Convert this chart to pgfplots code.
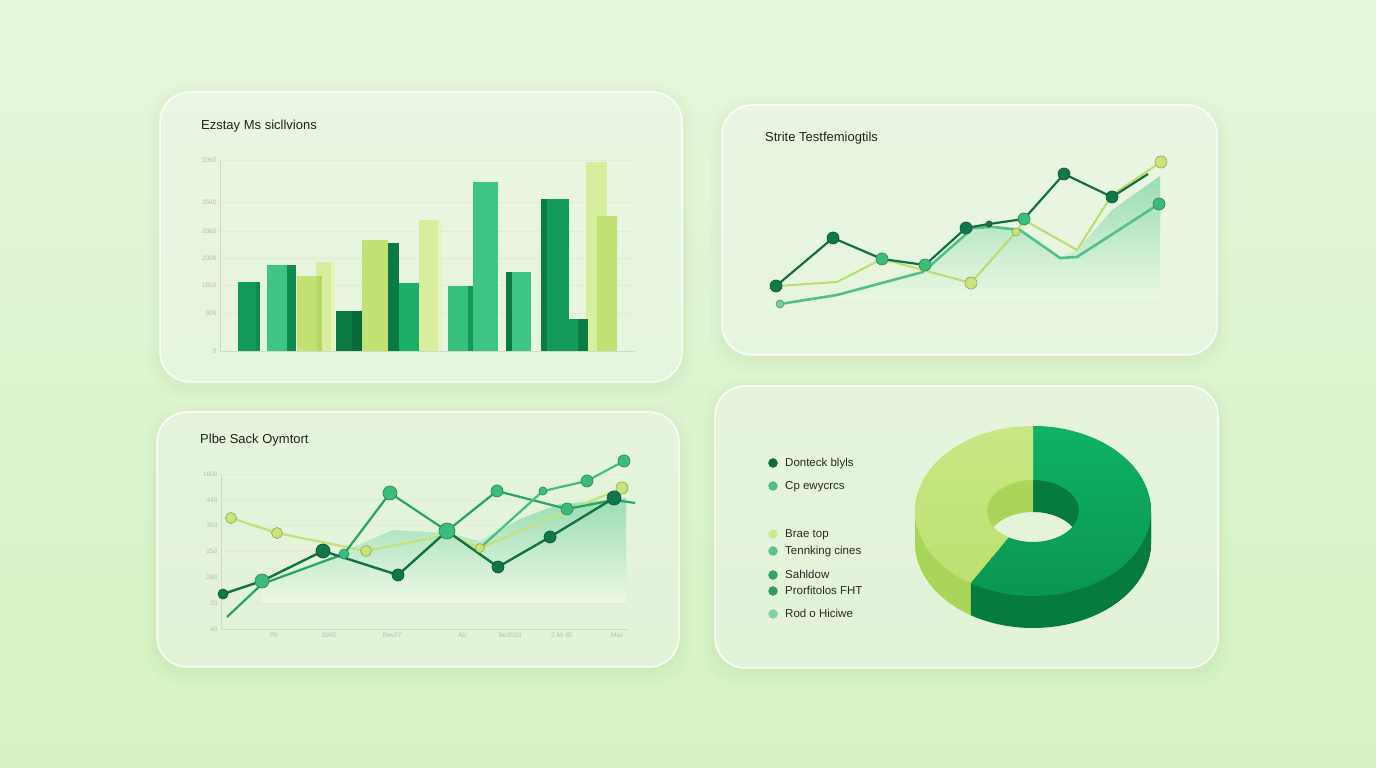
\documentclass[border=0pt]{standalone}
\usepackage{pgfplots}
\pgfplotsset{compat=1.18}
\usepackage{fontspec}
\setmainfont{Liberation Sans}
\definecolor{bgtop}{HTML}{E7F7DC}
\definecolor{bgbot}{HTML}{D6F2C3}
\definecolor{shadowc}{HTML}{6FA85A}
\definecolor{tickc}{HTML}{B5C1AE}
\definecolor{gridc}{HTML}{E1ECD8}
\definecolor{axisc}{HTML}{D0DAC8}
\definecolor{titlec}{HTML}{1E2420}
\definecolor{dkg}{HTML}{0F6B42}
\definecolor{dk}{HTML}{0B7A45}
\definecolor{dks}{HTML}{086A3A}
\definecolor{gr}{HTML}{13995A}
\definecolor{grs}{HTML}{0F8A50}
\definecolor{grn}{HTML}{1AAE66}
\definecolor{mint}{HTML}{3FC583}
\definecolor{mint2}{HTML}{36C07A}
\definecolor{lime}{HTML}{C2E174}
\definecolor{limes}{HTML}{B3D964}
\definecolor{pale}{HTML}{D6EE9D}
\definecolor{pales}{HTML}{E4F4BC}
\definecolor{l2dark}{HTML}{136E46}
\definecolor{l2lime}{HTML}{BADF6E}
\definecolor{l2mint}{HTML}{52C189}
\definecolor{areatop}{HTML}{9ADDB4}
\definecolor{cardc}{HTML}{EDF8E5}
\definecolor{p3dark}{HTML}{137245}
\definecolor{p3green}{HTML}{26A463}
\definecolor{p3mint}{HTML}{40C180}
\definecolor{p3lime}{HTML}{C4E27A}
\definecolor{mkdark}{HTML}{11774A}
\definecolor{mkmint}{HTML}{3DBB7B}
\definecolor{mklime}{HTML}{C8E57C}
\definecolor{dtop1}{HTML}{0FB263}
\definecolor{dtop2}{HTML}{0A9450}
\definecolor{dside}{HTML}{077A3D}
\definecolor{ltop1}{HTML}{C9E784}
\definecolor{ltop2}{HTML}{BCE070}
\definecolor{lside}{HTML}{A9D658}
\definecolor{lg1}{HTML}{0F6B42}
\definecolor{lg2}{HTML}{4DBE87}
\definecolor{lg3}{HTML}{CDE98F}
\definecolor{lg4}{HTML}{5FC28E}
\definecolor{lg5}{HTML}{2FA466}
\definecolor{lg6}{HTML}{2E9D60}
\definecolor{lg7}{HTML}{7FD3A3}
\definecolor{legtext}{HTML}{262B27}
\newcommand\card[4]{%
  \foreach \i/\o in {12/0.02, 8/0.025, 4/0.03}{%
    \fill[shadowc, opacity=\o, rounded corners=36pt] (#1-\i,#2-\i-5) rectangle (#3+\i,#4+\i-5);}
  \fill[white, opacity=0.42, rounded corners=30pt] (#1,#2) rectangle (#3,#4);
  \draw[white, opacity=0.85, line width=1.5pt, rounded corners=30pt] (#1,#2) rectangle (#3,#4);
}
% bar: center, width, height, colour
\newcommand\vbar[4]{\addplot[ybar, bar shift=0pt, bar width=#2, fill=#4, draw=none] coordinates {(#1,#3)};}
\newcommand\legdot[2]{\addplot[only marks, mark=*, mark size=4.5pt, color=#2] coordinates {(773,#1)};}
\pgfplotsset{
  dot/.style 2 args={only marks, mark=*, mark size=#1,
     mark options={fill=#2, draw=#2!75!black, line width=0.7pt}}}
\begin{document}
\begin{tikzpicture}[x=1pt,y=1pt]
\useasboundingbox (0,0) rectangle (1376,768);
\shade[top color=bgtop, bottom color=bgbot] (0,0) rectangle (1376,768);
\card{160}{386}{682}{676}
\card{722}{413}{1217}{663}
\card{157}{101}{679}{356}
\card{715}{100}{1218}{382}
% titles
\node[anchor=base west, inner sep=0pt, text=titlec, font=\fontsize{13}{15}\selectfont] at (201,638) {Ezstay Ms sicllvions};
\node[anchor=base west, inner sep=0pt, text=titlec, font=\fontsize{13}{15}\selectfont] at (765,626) {Strite Testfemiogtils};
\node[anchor=base west, inner sep=0pt, text=titlec, font=\fontsize{13}{15}\selectfont] at (200,324) {Plbe Sack Oymtort};

% ---------------- panel 1: bars
\begin{axis}[at={(220,417)}, anchor=south west, scale only axis,
  width=415pt, height=191pt, xmin=220, xmax=635, ymin=0, ymax=191,
  axis x line*=bottom, axis y line*=left,
  axis line style={draw=axisc, line width=0.6pt},
  xtick=\empty, ytick={0,38,66,93,120,149,191},
  yticklabels={0,900,1800,2000,2060,2560,2060},
  ymajorgrids, grid style={draw=gridc, line width=0.5pt},
  major tick length=0pt,
  tick label style={font=\fontsize{6.5}{7}\selectfont, text=tickc},
  clip=false]
\vbar{249}{22}{69}{gr}
\vbar{258}{4}{69}{grs}
\vbar{281.5}{29}{86}{mint}
\vbar{291.5}{9}{86}{grs}
\vbar{325.5}{19}{89}{pale}
\vbar{333}{4}{89}{pales}
\vbar{309.5}{25}{75}{lime}
\vbar{319.5}{5}{75}{limes}
\vbar{349}{26}{40}{dk}
\vbar{357}{10}{40}{dks}
\vbar{375}{26}{111}{lime}
\vbar{393.5}{11}{108}{dk}
\vbar{409.5}{21}{68}{grn}
\vbar{430}{22}{131}{pale}
\vbar{439.5}{3}{131}{pales}
\vbar{460.5}{25}{65}{mint2}
\vbar{470.5}{5}{65}{gr}
\vbar{485.5}{25}{169}{mint}
\vbar{518.5}{25}{79}{mint}
\vbar{509}{6}{79}{dk}
\vbar{555}{28}{152}{gr}
\vbar{544}{6}{152}{dk}
\vbar{596.5}{21}{189}{pale}
\vbar{607}{20}{135}{lime}
\vbar{576}{24}{32}{gr}
\vbar{583}{10}{32}{dk}
\end{axis}

% ---------------- panel 2: lines
\begin{axis}[at={(760,448)}, anchor=south west, scale only axis,
  width=420pt, height=170pt, xmin=760, xmax=1180, ymin=448, ymax=618,
  hide axis, clip=false]
\addplot[draw=none, top color=areatop, bottom color=cardc] coordinates {
 (780,468) (780,464) (837,473) (923,496) (973,540) (1020,538) (1060,510)
 (1077,518) (1112,558) (1160,592) (1160,468)} -- cycle;
\addplot[color=l2mint, line width=2.6pt] coordinates {
 (780,464) (837,473) (923,496) (973,540) (993,541) (1020,538) (1060,510) (1077,511) (1159,564)};
\addplot[color=l2lime, line width=2pt] coordinates {
 (778,482) (837,486) (882,509) (971,485) (1016,536) (1024,548) (1077,518) (1112,573) (1161,606)};
\addplot[color=l2dark, line width=2.2pt] coordinates {
 (776,482) (833,530) (882,509) (925,503) (966,540) (989,544) (1024,549) (1064,594) (1112,571) (1148,594)};
\addplot[dot={6pt}{mkdark}] coordinates {(776,482) (833,530) (966,540) (1064,594) (1112,571)};
\addplot[dot={6pt}{mkmint}] coordinates {(882,509) (925,503) (1024,549) (1159,564)};
\addplot[dot={4pt}{l2mint!80!white}] coordinates {(780,464)};
\addplot[dot={6pt}{mklime}] coordinates {(971,485) (1161,606)};
\addplot[dot={4pt}{mklime}] coordinates {(1016,536)};
\addplot[dot={3pt}{mkdark}] coordinates {(989,544)};
\end{axis}

% ---------------- panel 3: lines
\begin{axis}[at={(221,139)}, anchor=south west, scale only axis,
  width=407pt, height=155pt, xmin=221, xmax=628, ymin=0, ymax=155,
  axis x line*=bottom, axis y line*=left,
  axis line style={draw=axisc, line width=0.6pt},
  xtick={274,330,392,462,510,562,617},
  xticklabels={Pb,2665.,Rev27,Ab,Be0030,2.66 85,Max},
  ytick={0,26,52,78,104,129,155},
  yticklabels={40,20,280,250,360,440,1600},
  ymajorgrids, grid style={draw=gridc, line width=0.5pt},
  major tick length=0pt,
  tick label style={font=\fontsize{6.5}{7}\selectfont, text=tickc},
  clip=false]
\addplot[draw=none, top color=areatop, bottom color=cardc] coordinates {
 (262,26) (262,47) (330,72) (393,99) (447,96) (480,88) (520,110) (560,125) (600,128) (626,131) (626,26)} -- cycle;
\addplot[color=p3lime, line width=2.2pt] coordinates {
 (231,111) (277,96) (366,78) (447,94) (480,81) (622,141)};
\addplot[color=p3green, line width=2.2pt] coordinates {
 (227,12) (262,45) (344,75) (390,136) (447,98) (497,138) (567,120) (614,129) (635,126)};
\addplot[color=p3mint, line width=2.2pt] coordinates {
 (480,81) (543,138) (587,148) (624,168)};
\addplot[color=p3dark, line width=2.4pt] coordinates {
 (223,35) (262,48) (323,78) (398,54) (447,98) (498,62) (550,92) (614,131)};
\addplot[dot={5.5pt}{mklime}] coordinates {(231,111) (277,96) (366,78)};
\addplot[dot={4.5pt}{mklime}] coordinates {(480,81)};
\addplot[dot={6pt}{mklime}] coordinates {(622,141)};
\addplot[dot={7pt}{mkmint}] coordinates {(262,48) (390,136)};
\addplot[dot={8pt}{mkmint}] coordinates {(447,98)};
\addplot[dot={6pt}{mkmint}] coordinates {(497,138) (567,120) (587,148) (624,168)};
\addplot[dot={5pt}{mkmint}] coordinates {(344,75)};
\addplot[dot={4pt}{mkmint}] coordinates {(543,138)};
\addplot[dot={7pt}{mkdark}] coordinates {(323,78) (614,131)};
\addplot[dot={6pt}{mkdark}] coordinates {(398,54) (498,62) (550,92)};
\addplot[dot={5pt}{mkdark}] coordinates {(223,35)};
\end{axis}

% ---------------- panel 4: donut + legend
\begin{axis}[at={(900,130)}, anchor=south west, scale only axis,
  width=270pt, height=270pt, xmin=900, xmax=1170, ymin=130, ymax=400,
  hide axis, clip=false]
% shares: dark 58.9 %, lime 41.1 % ; cut at 90 deg and 90-212 deg
\pgfplotsinvokeforeach{32,31,...,1}{
 \fill[dside] ({1033+118*cos(-122)},{257-#1+85*sin(-122)}) arc[start angle=-122, end angle=90, x radius=118pt, y radius=85pt]
   -- ({1033+46*cos(90)},{257-#1+31*sin(90)}) arc[start angle=90, end angle=-122, x radius=46pt, y radius=31pt] -- cycle;
 \fill[lside] ({1033+118*cos(90)},{257-#1+85*sin(90)}) arc[start angle=90, end angle=238, x radius=118pt, y radius=85pt]
   -- ({1033+46*cos(238)},{257-#1+31*sin(238)}) arc[start angle=238, end angle=90, x radius=46pt, y radius=31pt] -- cycle;
}
\path[top color=dtop1, bottom color=dtop2] ({1033+118*cos(-122)},{257+85*sin(-122)}) arc[start angle=-122, end angle=90, x radius=118pt, y radius=85pt]
   -- ({1033+46*cos(90)},{257+31*sin(90)}) arc[start angle=90, end angle=-122, x radius=46pt, y radius=31pt] -- cycle;
\path[top color=ltop1, bottom color=ltop2] ({1033+118*cos(90)},{257+85*sin(90)}) arc[start angle=90, end angle=238, x radius=118pt, y radius=85pt]
   -- ({1033+46*cos(238)},{257+31*sin(238)}) arc[start angle=238, end angle=90, x radius=46pt, y radius=31pt] -- cycle;
% legend
\legdot{305}{lg1}
\legdot{282}{lg2}
\legdot{234}{lg3}
\legdot{217}{lg4}
\legdot{193}{lg5}
\legdot{177}{lg6}
\legdot{154}{lg7}
\end{axis}
\begin{scope}[every node/.style={anchor=base west, inner sep=0pt, text=legtext, font=\fontsize{11.5}{13}\selectfont}]
\node at (785,301) {Donteck blyls};
\node at (785,278) {Cp ewycrcs};
\node at (785,230) {Brae top};
\node at (785,213) {Tennking cines};
\node at (785,189) {Sahldow};
\node at (785,173) {Prorfitolos FHT};
\node at (785,150) {Rod o Hiciwe};
\end{scope}
\end{tikzpicture}
\end{document}
